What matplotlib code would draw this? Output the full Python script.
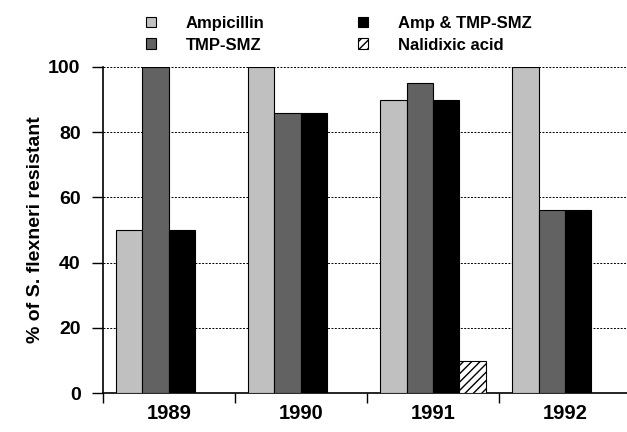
import matplotlib.pyplot as plt
import numpy as np

years = ["1989", "1990", "1991", "1992"]
ampicillin = [50, 100, 90, 100]
tmp_smz = [100, 86, 95, 56]
amp_tmp = [50, 86, 90, 56]
nalidixic = [0, 0, 10, 0]

plt.rcParams['font.family'] = ['Liberation Sans', 'DejaVu Sans']
plt.rcParams['font.weight'] = 'bold'
plt.rcParams['hatch.linewidth'] = 1.0

fig = plt.figure(figsize=(6.27, 4.32), dpi=100)
ax = fig.add_axes([0.164, 0.090, 0.836, 0.755])

x = np.arange(len(years))
width = 0.2

b1 = ax.bar(x - 0.3, ampicillin, width, color="#c0c0c0", edgecolor="black", linewidth=0.8, zorder=3)
b2 = ax.bar(x - 0.1, tmp_smz, width, color="#626262", edgecolor="black", linewidth=0.8, zorder=3)
b3 = ax.bar(x + 0.1, amp_tmp, width, color="black", edgecolor="black", linewidth=0.8, zorder=3)
nal_x = [xi + 0.3 for xi, v in zip(x, nalidixic) if v > 0]
nal_v = [v for v in nalidixic if v > 0]
b4 = ax.bar(nal_x, nal_v, width, color="white", edgecolor="black", hatch="////", linewidth=0.8, zorder=3)

ax.set_xlim(-0.5, 3.47)
ax.set_ylim(0, 100)
ax.set_yticks(np.arange(0, 101, 20))
ax.set_xticks(x)
ax.set_xticklabels(years, fontsize=14.5, fontweight="bold")
ax.set_xticks([-0.5, 0.5, 1.5, 2.5], minor=True)
ax.tick_params(axis='x', which='major', length=0, pad=8)
ax.tick_params(axis='x', which='minor', length=7, width=1)
ax.tick_params(axis='y', length=8, width=1, labelsize=14, pad=8)
for lab in ax.get_yticklabels():
    lab.set_fontweight("bold")

ax.grid(axis='y', linestyle=(0, (2, 1.5)), color="black", linewidth=0.7, zorder=0)
ax.spines['top'].set_visible(False)
ax.spines['right'].set_visible(False)
ax.spines['left'].set_linewidth(1.2)
ax.spines['bottom'].set_linewidth(1.2)

ax.set_ylabel("% of S. flexneri resistant", fontsize=14, fontweight="bold", labelpad=3)

fig.legend((b1, b2, b3, b4), ("Ampicillin", "TMP-SMZ", "Amp & TMP-SMZ", "Nalidixic acid"),
           ncol=2, frameon=False, loc="upper left", bbox_to_anchor=(0.2086, 0.998),
           handlelength=0.6, handleheight=0.6, handletextpad=1.8,
           columnspacing=5.6, labelspacing=0.4, prop={'weight': 'bold', 'size': 12})

plt.savefig("out.png", dpi=100)
